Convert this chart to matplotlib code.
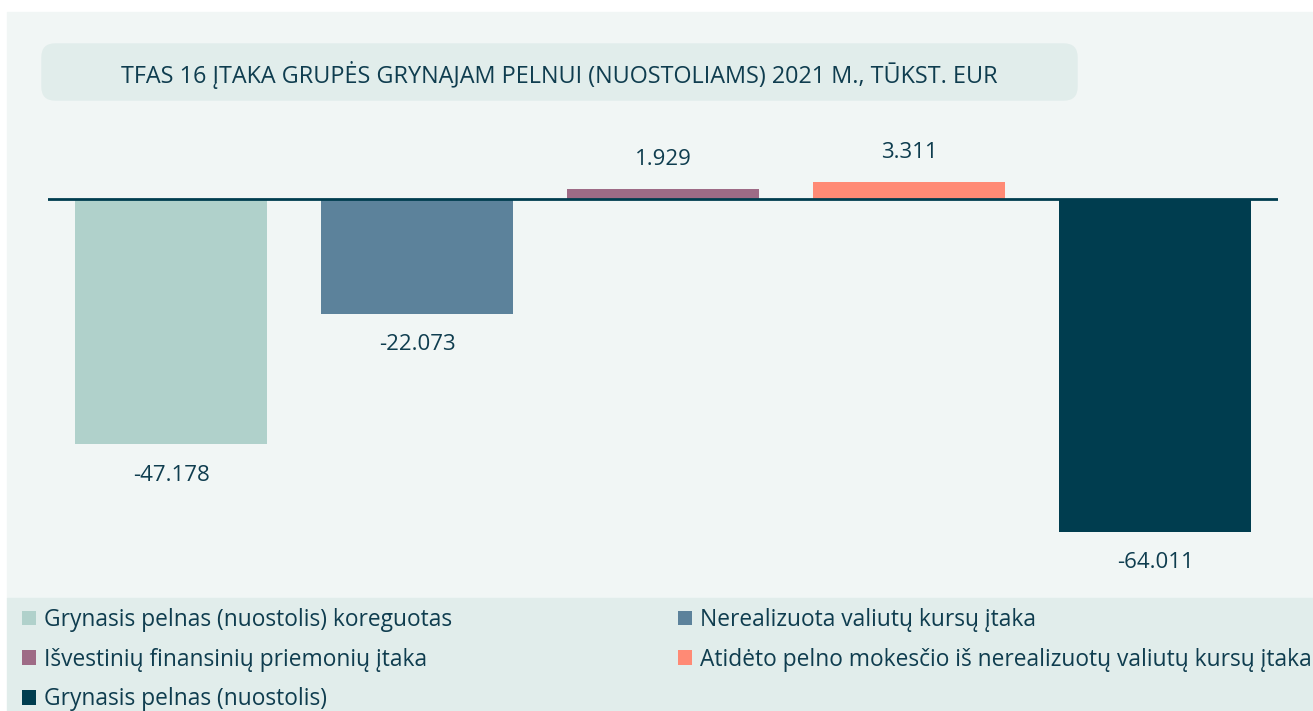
import matplotlib.pyplot as plt
from matplotlib.patches import Rectangle, FancyBboxPatch

plt.rcParams['font.family'] = ['Open Sans', 'DejaVu Sans']

# Data
labels = ['Grynasis pelnas (nuostolis) koreguotas',
          'Nerealizuota valiutų kursų įtaka',
          'Išvestinių finansinių priemonių įtaka',
          'Atidėto pelno mokesčio iš nerealizuotų valiutų kursų įtaka',
          'Grynasis pelnas (nuostolis)']
values = [-47.178, -22.073, 1.929, 3.311, -64.011]
value_text = ['-47.178', '-22.073', '1.929', '3.311', '-64.011']
colors = ['#b0d1cb', '#5c829b', '#9e6b86', '#ff8a75', '#003d4f']
title = 'TFAS 16 ĮTAKA GRUPĖS GRYNAJAM PELNUI (NUOSTOLIAMS) 2021 M., TŪKST. EUR'

TEXT = '#0f3d4f'
W, H = 1313, 711

fig = plt.figure(figsize=(W / 100, H / 100), dpi=100, facecolor='white')

def fx(px):
    return px / W

def fy(py):
    return 1 - py / H

# background panels
fig.patches.append(Rectangle((fx(7), fy(598)), fx(W - 7), (586) / H,
                             transform=fig.transFigure, color='#f1f6f5', zorder=-2))
fig.patches.append(Rectangle((fx(7), 0), fx(W - 7), (H - 598) / H,
                             transform=fig.transFigure, color='#e1edeb', zorder=-2))
fig.patches.append(FancyBboxPatch((fx(42), fy(100)), fx(1077 - 42), 56 / H,
                                  boxstyle='round,pad=0,rounding_size=0.01',
                                  transform=fig.transFigure, color='#e1edeb',
                                  mutation_aspect=W / H, zorder=-1))
fig.text(fx(559), fy(75), title, ha='center', va='center', fontsize=16.8, color=TEXT)

# axes: x from 48 to 1278 px, y from 150 to 580 px
top_px, bot_px, zero_px = 150, 580, 199
ax = fig.add_axes([fx(48), fy(bot_px), fx(1278 - 48), (bot_px - top_px) / H])
ax.set_facecolor('none')
scale = 333 / 64.011
ax.set_ylim(-(bot_px - zero_px) / scale, (zero_px - top_px) / scale)
ax.set_xlim(-0.5, len(values) - 0.5)

x = range(len(values))
bars = ax.bar(x, values, width=0.777, color=colors, label=labels, zorder=2)
ax.axhline(0, color='#003d4f', lw=2, zorder=3)

for xi, v, t in zip(x, values, value_text):
    off = 29 if v > 0 else -31
    ax.annotate(t, (xi, v), xytext=(0, off), textcoords='offset pixels',
                ha='center', va='center', fontsize=16, color=TEXT,
                annotation_clip=False)

ax.axis('off')

# legend in two columns, row-major order
handles = list(bars)
common = dict(frameon=False, fontsize=16.4, handlelength=0.6, handleheight=0.6,
              handletextpad=0.35, labelspacing=0.69, labelcolor=TEXT,
              borderaxespad=0, borderpad=0)
fig.legend([handles[0], handles[2], handles[4]], [labels[0], labels[2], labels[4]],
           loc='upper left', bbox_to_anchor=(fx(22), fy(608)), **common)
fig.legend([handles[1], handles[3]], [labels[1], labels[3]],
           loc='upper left', bbox_to_anchor=(fx(678), fy(608)), **common)

fig.savefig('out.png', dpi=100, facecolor='white')
